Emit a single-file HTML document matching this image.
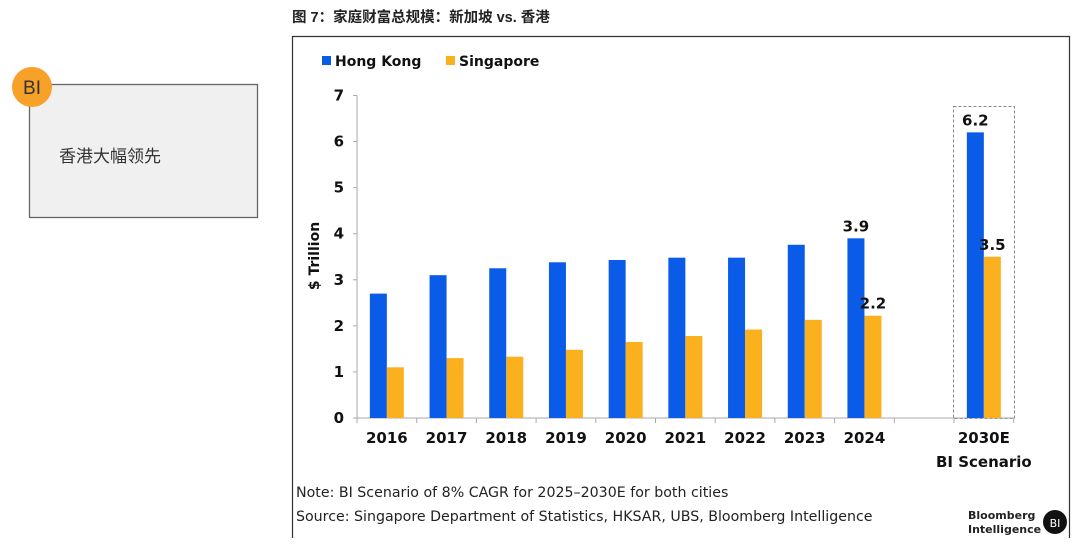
<!DOCTYPE html>
<html><head><meta charset="utf-8"><style>
body{margin:0;width:1080px;height:550px;background:#fff;overflow:hidden;font-family:"DejaVu Sans","Liberation Sans","Noto Sans CJK SC",sans-serif;}
</style></head><body>
<svg width="1080" height="550" xmlns="http://www.w3.org/2000/svg">
<g>
<rect x="29.5" y="84.5" width="228" height="133" fill="#f0f0f0" stroke="#666" stroke-width="1.3"/>
<circle cx="32" cy="87" r="20" fill="#f7a128"/>
<text x="32" y="94" text-anchor="middle" font-family="'Liberation Sans',sans-serif" font-size="19" fill="#333">BI</text>
<text x="59" y="162" font-family="'Liberation Sans','Noto Sans CJK SC',sans-serif" font-size="17" fill="#333">香港大幅领先</text>
</g>
<text x="292" y="22" font-family="'Liberation Sans','Noto Sans CJK SC',sans-serif" font-size="14.5" font-weight="bold" fill="#222">图 7：家庭财富总规模：新加坡 vs. 香港</text>
<path d="M292.5 538V36.5H1069.5V538" fill="none" stroke="#333" stroke-width="1.2"/>
<g>
<rect x="322" y="56" width="9" height="9" fill="#0a5ce8"/>
<text x="335" y="66" font-size="14" font-weight="bold" fill="#111">Hong Kong</text>
<rect x="446" y="56" width="9" height="9" fill="#fbb01d"/>
<text x="459" y="66" font-size="14" font-weight="bold" fill="#111">Singapore</text>
</g>
<text transform="translate(319,256) rotate(-90)" text-anchor="middle" font-size="14" font-weight="bold" fill="#111">$ Trillion</text>
<rect x="953.5" y="106.5" width="61" height="312" fill="none" stroke="#888" stroke-dasharray="3,2"/>
<g id="chart"></g>
<text x="296" y="497" font-family="'DejaVu Sans',sans-serif" font-size="14.2" fill="#222">Note: BI Scenario of 8% CAGR for 2025–2030E for both cities</text>
<text x="296" y="521" font-family="'DejaVu Sans',sans-serif" font-size="14.2" fill="#222">Source: Singapore Department of Statistics, HKSAR, UBS, Bloomberg Intelligence</text>
<text x="968" y="519" font-size="11" font-weight="bold" fill="#222">Bloomberg</text>
<text x="968" y="533" font-size="11" font-weight="bold" fill="#222">Intelligence</text>
<circle cx="1055" cy="522" r="12" fill="#111"/>
<text x="1055" y="527" text-anchor="middle" font-size="11" fill="#fff">BI</text>
</svg>
<script>
const categories=["2016","2017","2018","2019","2020","2021","2022","2023","2024","2030E"];
const slotIndex=[0,1,2,3,4,5,6,7,8,10];
const hongKong=[2.7,3.1,3.25,3.38,3.43,3.48,3.48,3.76,3.9,6.2];
const singapore=[1.1,1.3,1.33,1.48,1.65,1.78,1.92,2.13,2.22,3.5];
const yTicks=[0,1,2,3,4,5,6,7];
const labelsHK={8:"3.9",9:"6.2"};
const labelsSG={8:"2.2",9:"3.5"};
const NS="http://www.w3.org/2000/svg";
const g=document.getElementById('chart');
const x0=357,slotW=59.7,nSlots=11,y0=418,yTop=95.5,yMax=7;
const y=v=>y0-(v/yMax)*(y0-yTop);
const xs=i=>x0+slotW*i;
function mk(t,a){const e=document.createElementNS(NS,t);for(const k in a)e.setAttribute(k,a[k]);g.appendChild(e);return e;}
let e=mk('line',{x1:x0,y1:y(0),x2:x0,y2:y(yMax),stroke:'#aaa'});


yTicks.forEach(t=>{
 let l=mk('line',{x1:x0-4,x2:x0,y1:y(t),y2:y(t),stroke:'#aaa'});
 
 
 let tx=mk('text',{x:x0-13,y:y(t)+5,'text-anchor':'end','font-size':15,'font-weight':'bold',fill:'#111'});
 tx.textContent=t;
 
 
});
e=mk('line',{x1:x0,y1:y0,x2:xs(nSlots),y2:y0,stroke:'#aaa'});


for(let i=0;i<=nSlots;i++){
 let l=mk('line',{x1:xs(i),x2:xs(i),y1:y0,y2:y0+5,stroke:'#aaa'});
 
 
}
const bw=17;
categories.forEach((c,i)=>{
 const cx=xs(slotIndex[i]+0.5);
 let b=mk('rect',{x:cx-bw,y:y(hongKong[i]),width:bw,height:y0-y(hongKong[i]),fill:'#0a5ce8'});
 
 
 b=mk('rect',{x:cx,y:y(singapore[i]),width:bw,height:y0-y(singapore[i]),fill:'#fbb01d'});
 
 
 let t=mk('text',{x:cx,y:y0+25,'text-anchor':'middle','font-size':15,'font-weight':'bold',fill:'#111'});
 t.textContent=c;
 
 
 if(labelsHK[i]){let v=mk('text',{x:cx-bw/2,y:y(hongKong[i])-7,'text-anchor':'middle','font-size':15,'font-weight':'bold',fill:'#111'});v.textContent=labelsHK[i];
  
  }
 if(labelsSG[i]){let v=mk('text',{x:cx+bw/2,y:y(singapore[i])-7,'text-anchor':'middle','font-size':15,'font-weight':'bold',fill:'#111'});v.textContent=labelsSG[i];
  
  }
});
let s=mk('text',{x:xs(10.5),y:y0+49,'text-anchor':'middle','font-size':15,'font-weight':'bold',fill:'#111'});
s.textContent='BI Scenario';


</script>
</body></html>
